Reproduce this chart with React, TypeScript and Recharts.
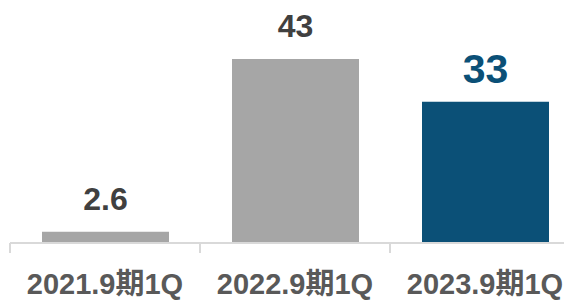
import React from 'react';
import { BarChart, Bar, XAxis, YAxis, Cell, LabelList } from 'recharts';

const categories = ['2021.9期1Q', '2022.9期1Q', '2023.9期1Q'];
const values = [2.6, 43, 33];
const barColors = ['#a6a6a6', '#a6a6a6', '#0b5077'];
const highlightIndex = 2;

const data = categories.map((name, i) => ({ name, value: values[i] }));

const FONT = '"Liberation Sans", "Noto Sans CJK JP", sans-serif';
const TICK_GAP = 30;

const ValueLabel = (props: any) => {
  const { x, y, width, value, index } = props;
  const hi = index === highlightIndex;
  return (
    <text
      x={x + width / 2}
      y={y - (hi ? 19 : 22)}
      textAnchor="middle"
      fontFamily={FONT}
      fontWeight="bold"
      fontSize={hi ? 41 : 32}
      fill={hi ? '#0b5077' : '#404040'}
    >
      {value}
    </text>
  );
};

// label under the bar, plus the small divider tick on the left edge of its band
const CategoryTick = (props: any) => {
  const { x, y, payload } = props;
  const half = payload.offset ?? 95;
  const axisY = y - TICK_GAP;
  return (
    <g>
      <line x1={x - half} x2={x - half} y1={axisY} y2={axisY + 10} stroke="#d9d9d9" strokeWidth={2} />
      <text
        x={x}
        y={y + 21}
        textAnchor="middle"
        fontFamily={FONT}
        fontWeight="bold"
        fontSize={29}
        fill="#595959"
      >
        {payload.value}
      </text>
    </g>
  );
};

export default function App() {
  return (
    <div style={{ position: 'absolute', left: 0, top: 0, width: 564, height: 300, overflow: 'hidden', background: '#fff' }}>
      <BarChart
        width={580}
        height={300}
        data={data}
        margin={{ top: 29, right: 0, left: 10, bottom: 0 }}
        barSize={127}
      >
        <XAxis
          dataKey="name"
          height={57}
          stroke="#d9d9d9"
          strokeWidth={2}
          tickLine={false}
          tickSize={0}
          tickMargin={TICK_GAP}
          interval={0}
          tick={<CategoryTick />}
        />
        <YAxis hide domain={[0, 50]} />
        <Bar dataKey="value" isAnimationActive={false}>
          {data.map((d, i) => (
            <Cell key={d.name} fill={barColors[i]} />
          ))}
          <LabelList dataKey="value" content={<ValueLabel />} />
        </Bar>
      </BarChart>
    </div>
  );
}
